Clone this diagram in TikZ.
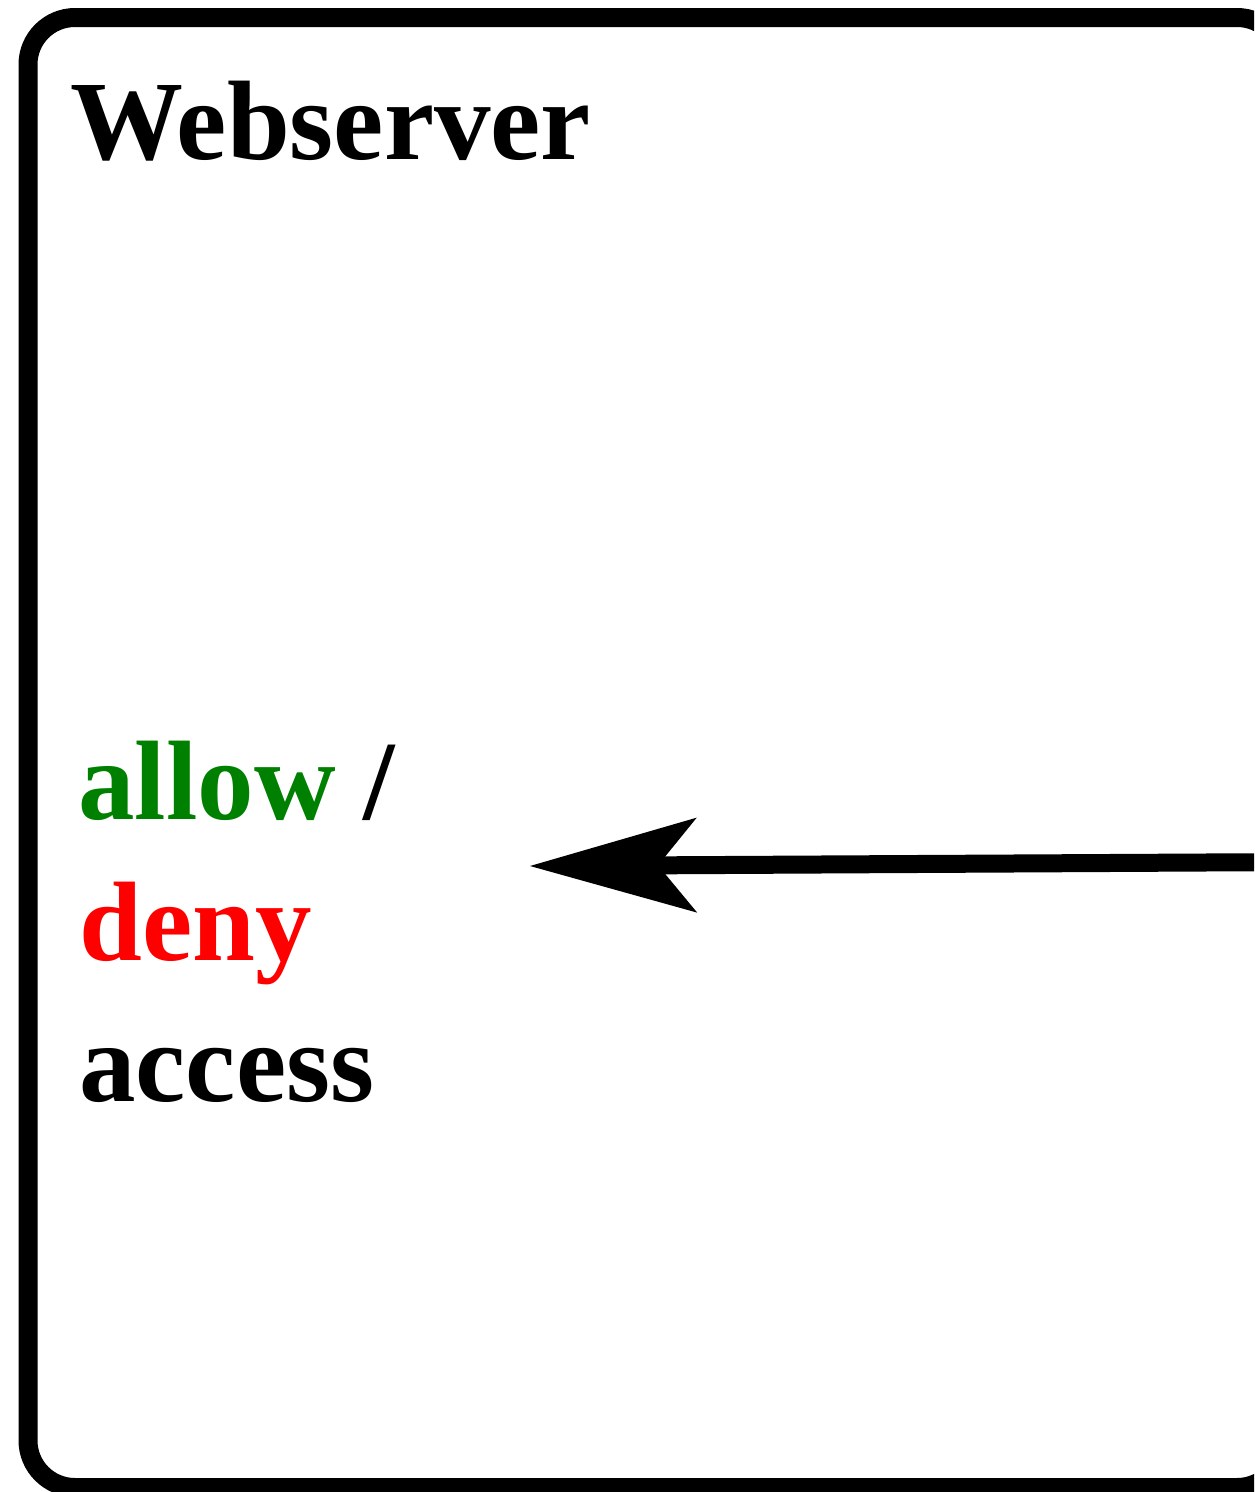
\documentclass[tikz,border=0pt]{standalone}
\usepackage{fontspec}
\setmainfont{Liberation Serif}
\usetikzlibrary{arrows.meta}
\definecolor{allowgreen}{HTML}{008000}
\definecolor{denyred}{HTML}{FF0000}
\tikzset{
  frame/.style={draw=black, line width=19pt, rounded corners=47pt},
  label/.style={anchor=base west, inner sep=0pt, font=\fontsize{113}{136}\selectfont\bfseries},
  conn/.style={draw=black, line width=18pt, -{Stealth[length=167pt, width=95pt, inset=39pt, line width=0pt]}}
}
\begin{document}
\begin{tikzpicture}[x=1pt, y=-1pt]
  \useasboundingbox (0,0) rectangle (1254,1492);
  \clip (0,0) rectangle (1254,1492);
  \draw[frame] (28,17.5) rectangle (1284,1487.5);
  \node[label] (title) at (70,159) {Webserver};
  \node[label] (allow) at (78,819) {\textcolor{allowgreen}{allow} /};
  \node[label] (deny) at (79,960) {\textcolor{denyred}{deny}};
  \node[label] (access) at (79,1101) {access};
  \coordinate (src) at (1300,862);
  \coordinate (tip) at (530,866);
  \draw[conn] (src) -- (tip);
\end{tikzpicture}
\end{document}
